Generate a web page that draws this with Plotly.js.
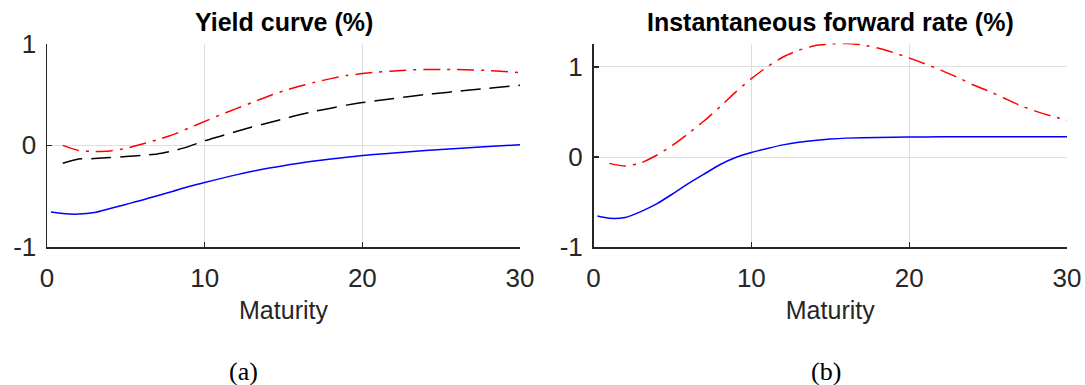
<!DOCTYPE html>
<html>
<head>
<meta charset="utf-8">
<script src="https://cdn.plot.ly/plotly-3.0.1.min.js"></script>
<style>html,body{margin:0;padding:0;background:#fff;}#chart{width:1085px;height:385px;}</style>
</head>
<body>
<div id="chart"></div>
<script>
// Yield curve panel (a)
const ycBlueX = [0.25, 1, 2, 3, 4, 5, 6, 7, 8, 9, 10, 12, 14, 16, 18, 20, 22, 24, 26, 28, 30];
const ycBlueY = [-0.655, -0.67, -0.675, -0.66, -0.62, -0.58, -0.54, -0.495, -0.45, -0.405, -0.365, -0.29, -0.225, -0.175, -0.135, -0.1, -0.075, -0.05, -0.03, -0.012, 0.005];
const annualX = [1,2,3,4,5,6,7,8,9,10,11,12,13,14,15,16,17,18,19,20,21,22,23,24,25,26,27,28,29,30];
const ycRedY = [0.0, -0.05, -0.06, -0.055, -0.03, 0.01, 0.055, 0.105, 0.17, 0.235, 0.3, 0.36, 0.42, 0.48, 0.535, 0.58, 0.62, 0.655, 0.685, 0.705, 0.72, 0.73, 0.74, 0.745, 0.745, 0.745, 0.74, 0.735, 0.725, 0.715];
const ycBlackY = [-0.175, -0.135, -0.13, -0.12, -0.11, -0.1, -0.085, -0.055, -0.01, 0.045, 0.09, 0.135, 0.18, 0.22, 0.26, 0.3, 0.335, 0.365, 0.395, 0.42, 0.44, 0.46, 0.48, 0.5, 0.515, 0.53, 0.545, 0.56, 0.575, 0.59];

// Instantaneous forward rate panel (b)
const fwBlueX = [0.25, 1, 2, 3, 4, 5, 6, 7, 8, 9, 10, 11, 12, 13, 14, 15, 16, 18, 20, 22, 25, 28, 30];
const fwBlueY = [-0.655, -0.68, -0.67, -0.605, -0.52, -0.41, -0.295, -0.19, -0.085, -0.005, 0.05, 0.095, 0.135, 0.165, 0.185, 0.2, 0.21, 0.218, 0.222, 0.224, 0.225, 0.225, 0.225];
const fwRedY = [-0.07, -0.1, -0.065, 0.02, 0.13, 0.26, 0.4, 0.555, 0.72, 0.87, 1.0, 1.11, 1.185, 1.235, 1.255, 1.26, 1.245, 1.21, 1.16, 1.1, 1.035, 0.965, 0.89, 0.805, 0.735, 0.655, 0.575, 0.51, 0.455, 0.41];

const titles = ["Yield curve (%)", "Instantaneous forward rate (%)"];
const subcaps = ["(a)", "(b)"];
const xTicks = [0, 10, 20, 30];
const yTicks = [-1, 0, 1];

const BLUE = '#0000ff', RED = '#ff0000', BLACK = '#000000';
const DASHDOT = '17px,7px,3px,7px';
const DASHED = '20px,9px';

const traces = [
  {x: ycBlueX, y: ycBlueY, xaxis: 'x', yaxis: 'y', mode: 'lines', line: {color: BLUE, width: 1.5, shape: 'spline', smoothing: 0.8}},
  {x: annualX, y: ycRedY, xaxis: 'x', yaxis: 'y', mode: 'lines', line: {color: RED, width: 1.5, dash: DASHDOT, shape: 'spline', smoothing: 0.6}},
  {x: annualX, y: ycBlackY, xaxis: 'x', yaxis: 'y', mode: 'lines', line: {color: BLACK, width: 1.5, dash: DASHED, shape: 'spline', smoothing: 0.5}},
  {x: fwBlueX, y: fwBlueY, xaxis: 'x2', yaxis: 'y2', mode: 'lines', line: {color: BLUE, width: 1.5, shape: 'spline', smoothing: 0.6}},
  {x: annualX, y: fwRedY, xaxis: 'x2', yaxis: 'y2', mode: 'lines', line: {color: RED, width: 1.5, dash: DASHDOT, shape: 'spline', smoothing: 0.6}}
];

const tickFont = {family: 'Liberation Sans, Arial, sans-serif', size: 26, color: '#262626'};
function xAx(domain, anchor) {
  return {domain: domain, anchor: anchor, range: [0, 30], tickvals: xTicks, ticktext: xTicks.map(String),
    showline: true, linecolor: '#262626', linewidth: 1.5, mirror: false,
    ticks: 'inside', ticklen: 5, tickwidth: 1.2, tickcolor: '#262626',
    showgrid: true, gridcolor: '#dedede', gridwidth: 1, zeroline: false,
    tickfont: tickFont, ticklabelstandoff: 7,
    title: {text: 'Maturity', font: {family: 'Liberation Sans, Arial, sans-serif', size: 25, color: '#262626'}, standoff: 9},
    fixedrange: true};
}
function yAx(domain, anchor, range) {
  return {domain: domain, anchor: anchor, range: range, tickvals: yTicks, ticktext: yTicks.map(String),
    showline: true, linecolor: '#262626', linewidth: 1.5, mirror: false,
    ticks: 'inside', ticklen: 5, tickwidth: 1.2, tickcolor: '#262626',
    showgrid: true, gridcolor: '#dedede', gridwidth: 1, zeroline: false,
    tickfont: tickFont, ticklabelstandoff: 4, fixedrange: true};
}

const xd1 = [47/1085, 520/1085], xd2 = [593.5/1085, 1067/1085];
const yd = [0.358, 0.887];

const layout = {
  width: 1085, height: 385,
  margin: {l: 0, r: 0, t: 0, b: 0},
  paper_bgcolor: '#ffffff', plot_bgcolor: '#ffffff',
  showlegend: false,
  xaxis: xAx(xd1, 'y'), yaxis: yAx(yd, 'x', [-1, 1]),
  xaxis2: xAx(xd2, 'y2'), yaxis2: yAx(yd, 'x2', [-1, 1.26]),
  annotations: [
    {text: '<b>' + titles[0] + '</b>', xref: 'paper', yref: 'paper', x: (xd1[0]+xd1[1])/2, y: 1 - 22/385, xanchor: 'center', yanchor: 'middle', showarrow: false,
     font: {family: 'Liberation Sans, Arial, sans-serif', size: 25, color: '#000'}},
    {text: '<b>' + titles[1] + '</b>', xref: 'paper', yref: 'paper', x: (xd2[0]+xd2[1])/2, y: 1 - 22/385, xanchor: 'center', yanchor: 'middle', showarrow: false,
     font: {family: 'Liberation Sans, Arial, sans-serif', size: 25, color: '#000'}},
    {text: subcaps[0], xref: 'paper', yref: 'paper', x: 243/1085, y: 1 - 371/385, xanchor: 'center', yanchor: 'middle', showarrow: false,
     font: {family: 'Liberation Serif, DejaVu Serif, serif', size: 26, color: '#000'}},
    {text: subcaps[1], xref: 'paper', yref: 'paper', x: 826/1085, y: 1 - 371/385, xanchor: 'center', yanchor: 'middle', showarrow: false,
     font: {family: 'Liberation Serif, DejaVu Serif, serif', size: 26, color: '#000'}}
  ]
};

Plotly.newPlot('chart', traces, layout, {staticPlot: true, displayModeBar: false});
</script>
</body>
</html>
